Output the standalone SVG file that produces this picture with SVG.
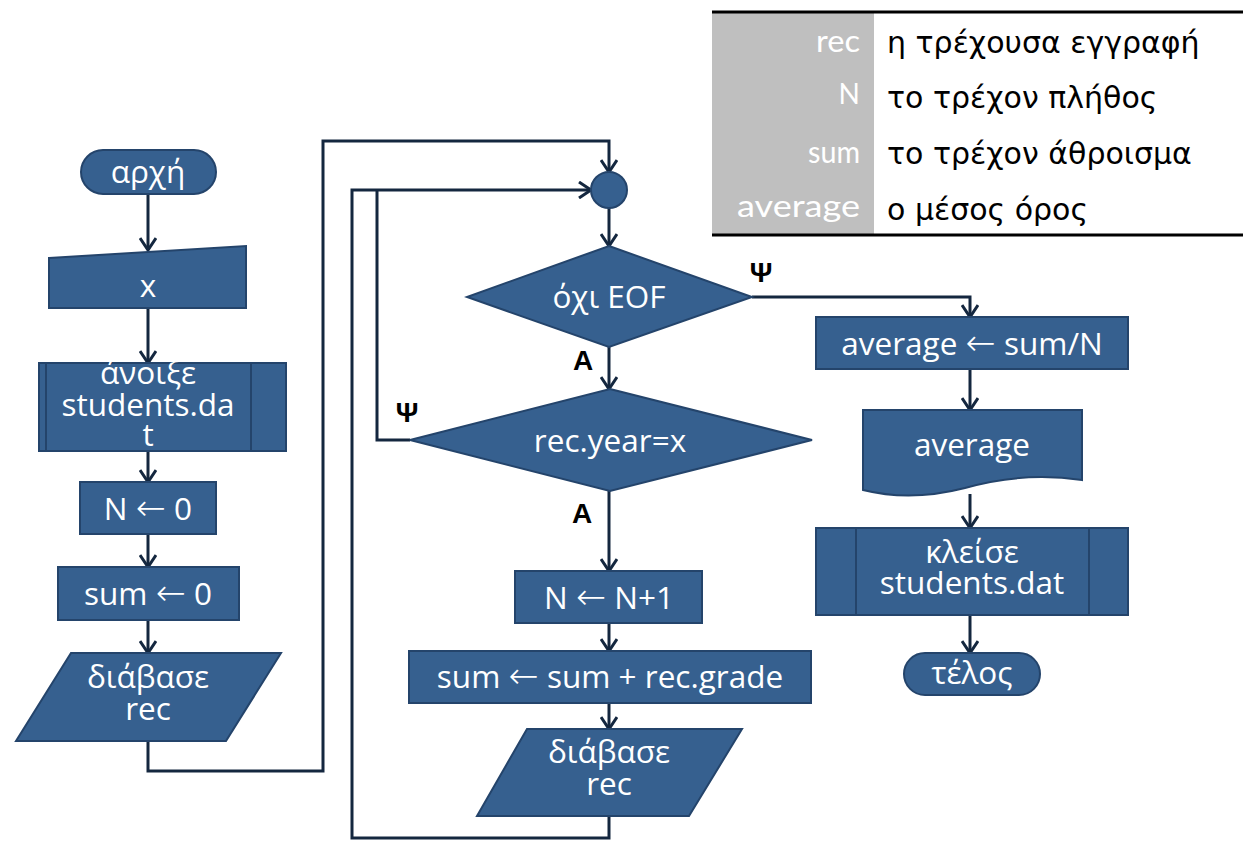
<svg xmlns="http://www.w3.org/2000/svg" width="1243" height="846" viewBox="0 0 1243 846">
<style>
.n{fill:#36608f;stroke:#24446b;stroke-width:2}
.t{font-family:"Open Sans","Noto Sans",sans-serif;font-size:31.5px;fill:#fff;text-anchor:middle}
.a{font-family:"DejaVu Sans",sans-serif;font-size:36px;font-weight:200}
.c{fill:none;stroke:#14273f;stroke-width:3}
.lb{font-family:"Liberation Sans",Arial,sans-serif;font-weight:bold;font-size:28px;fill:#000;text-anchor:middle}
.lk{font-family:"Lato","DejaVu Sans",sans-serif;font-size:30px;fill:#fff;text-anchor:end}
.lv{font-family:"DejaVu Sans","Noto Sans",sans-serif;font-size:30px;fill:#000}
</style>
<defs>
<marker id="ar" markerWidth="18" markerHeight="18" refX="14" refY="9" orient="auto-start-reverse" markerUnits="userSpaceOnUse" viewBox="0 0 18 18">
<path d="M2,1 L14,9 L2,17" fill="none" stroke="#14273f" stroke-width="3"/>
</marker>
</defs>
<rect width="1243" height="846" fill="#fff"/>

<g id="legend">
<rect x="712" y="13" width="162" height="221" fill="#bfbfbf"/>
<line x1="712" y1="12" x2="1243" y2="12" stroke="#000" stroke-width="3"/>
<line x1="712" y1="235" x2="1243" y2="235" stroke="#000" stroke-width="3"/>
<text class="lk" x="860" y="52" textLength="44" lengthAdjust="spacingAndGlyphs">rec</text>
<text class="lk" x="860" y="104" style="font-size:28px">N</text>
<text class="lk" x="860" y="163" textLength="52" lengthAdjust="spacingAndGlyphs">sum</text>
<text class="lk" x="860" y="217" textLength="123" lengthAdjust="spacingAndGlyphs">average</text>
<text class="lv" x="887" y="53">η τρέχουσα εγγραφή</text>
<text class="lv" x="887" y="108">το τρέχον πλήθος</text>
<text class="lv" x="887" y="164">το τρέχον άθροισμα</text>
<text class="lv" x="887" y="220">ο μέσος όρος</text>
</g>

<g id="connectors">
<path class="c" d="M148,194 V250" marker-end="url(#ar)"/>
<path class="c" d="M148,308 V363" marker-end="url(#ar)"/>
<path class="c" d="M148,451 V482" marker-end="url(#ar)"/>
<path class="c" d="M148,534 V567" marker-end="url(#ar)"/>
<path class="c" d="M148,620 V653" marker-end="url(#ar)"/>
<path class="c" d="M148,741 V771 H323 V141 H609 V172" marker-end="url(#ar)"/>
<path class="c" d="M609,208 V246" marker-end="url(#ar)"/>
<path class="c" d="M752,297 H970 V317" marker-end="url(#ar)"/>
<path class="c" d="M609,347 V389" marker-end="url(#ar)"/>
<path class="c" d="M410,440 H377 V190"/>
<path class="c" d="M609,491 V571" marker-end="url(#ar)"/>
<path class="c" d="M609,623 V651" marker-end="url(#ar)"/>
<path class="c" d="M609,703 V729" marker-end="url(#ar)"/>
<path class="c" d="M609,816 V838 H352 V190 H591" marker-end="url(#ar)"/>
<path class="c" d="M970,369 V410" marker-end="url(#ar)"/>
<path class="c" d="M970,494 V528" marker-end="url(#ar)"/>
<path class="c" d="M970,615 V653" marker-end="url(#ar)"/>
<text class="lb" x="761" y="282">Ψ</text>
<text class="lb" x="583" y="370">A</text>
<text class="lb" x="407" y="422">Ψ</text>
<text class="lb" x="582" y="523">A</text>
</g>

<g id="start">
<rect class="n" x="81" y="150" width="135" height="44" rx="22"/>
<text class="t" x="148" y="183">αρχή</text>
</g>
<g id="input-x">
<polygon class="n" points="49,258 246,246 246,308 49,308"/>
<text class="t" x="148" y="297">x</text>
</g>
<g id="open">
<rect class="n" x="39" y="363" width="247" height="88"/>
<line x1="46" y1="363" x2="46" y2="451" stroke="#24446b" stroke-width="2"/>
<line x1="251" y1="363" x2="251" y2="451" stroke="#24446b" stroke-width="2"/>
<text class="t" x="148" y="384">άνοιξε<tspan x="148" dy="32">students.da</tspan><tspan x="148" dy="30">t</tspan></text>
</g>
<g id="n0">
<rect class="n" x="80" y="482" width="136" height="52"/>
<text class="t" x="148" y="520">N <tspan class="a">←</tspan> 0</text>
</g>
<g id="sum0">
<rect class="n" x="58" y="567" width="181" height="53"/>
<text class="t" x="148" y="605">sum <tspan class="a">←</tspan> 0</text>
</g>
<g id="read1">
<polygon class="n" points="71,653 281,653 226,741 16,741"/>
<text class="t" x="148" y="688">διάβασε<tspan x="148" dy="32">rec</tspan></text>
</g>
<g id="join">
<circle class="n" cx="609" cy="190" r="18"/>
</g>
<g id="eof">
<polygon class="n" points="609,246 752,297 609,347 467,297"/>
<text class="t" x="609" y="308">όχι EOF</text>
</g>
<g id="year">
<polygon class="n" points="610,389 812,440 610,491 410,440"/>
<text class="t" x="610" y="452">rec.year=x</text>
</g>
<g id="ninc">
<rect class="n" x="515" y="571" width="187" height="52"/>
<text class="t" x="609" y="609">N <tspan class="a">←</tspan> N+1</text>
</g>
<g id="sumadd">
<rect class="n" x="409" y="651" width="402" height="52"/>
<text class="t" x="610" y="688">sum <tspan class="a">←</tspan> sum + rec.grade</text>
</g>
<g id="read2">
<polygon class="n" points="527,729 742,729 689,816 477,816"/>
<text class="t" x="609" y="763">διάβασε<tspan x="609" dy="32">rec</tspan></text>
</g>
<g id="avg">
<rect class="n" x="816" y="317" width="312" height="52"/>
<text class="t" x="972" y="355">average <tspan class="a">←</tspan> sum/N</text>
</g>
<g id="out">
<path class="n" d="M863,410 H1082 V480 C1040,474 1000,478 965,488 C930,497 895,498 863,490 Z"/>
<text class="t" x="972" y="456">average</text>
</g>
<g id="close">
<rect class="n" x="816" y="528" width="312" height="87"/>
<line x1="856" y1="528" x2="856" y2="615" stroke="#24446b" stroke-width="2"/>
<line x1="1089" y1="528" x2="1089" y2="615" stroke="#24446b" stroke-width="2"/>
<text class="t" x="972" y="563">κλείσε<tspan x="972" dy="31">students.dat</tspan></text>
</g>
<g id="end">
<rect class="n" x="904" y="653" width="136" height="42" rx="21"/>
<text class="t" x="972" y="684">τέλος</text>
</g>
</svg>
